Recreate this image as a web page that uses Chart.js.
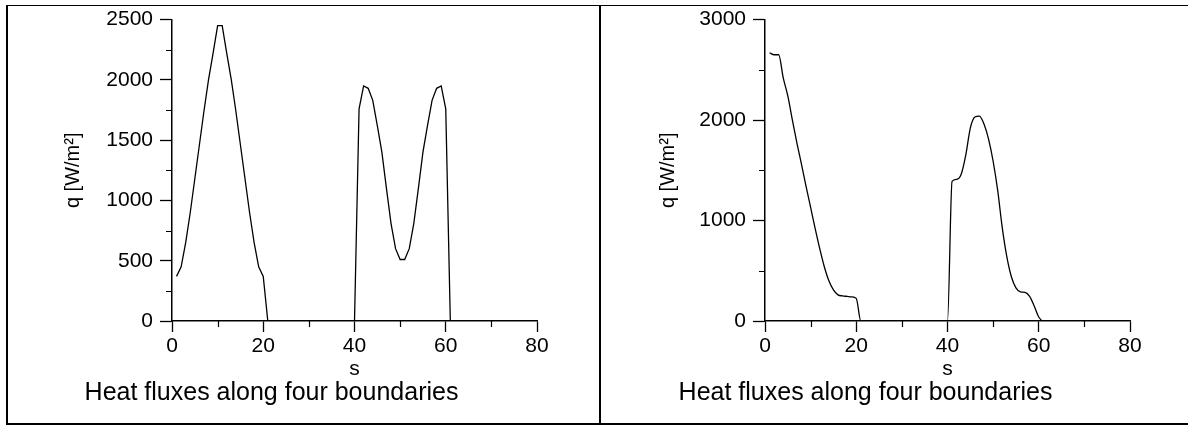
<!DOCTYPE html>
<html>
<head>
<meta charset="utf-8">
<script src="https://cdn.jsdelivr.net/npm/chart.js@4.4.1/dist/chart.umd.min.js"></script>
<style>
  body { margin: 0; background: #fff; }
  #wrap { position: relative; width: 1188px; height: 428px; overflow: hidden; background: #fff; }
  .panel { position: absolute; top: 0; height: 424px; }
  .rule { position: absolute; background: #000; }
</style>
</head>
<body>
<div id="wrap">
  <div class="panel" style="left:6px;width:594px"><canvas id="leftChart"></canvas></div>
  <div class="panel" style="left:601px;width:587px"><canvas id="rightChart"></canvas></div>
  <div class="rule" style="left:6px;top:5px;width:1182px;height:1px"></div>
  <div class="rule" style="left:6px;top:5px;width:1.5px;height:419px"></div>
  <div class="rule" style="left:599px;top:5px;width:2px;height:419px"></div>
  <div class="rule" style="left:6px;top:423px;width:1182px;height:2px"></div>
</div>
<script>
// s positions along the boundaries and heat flux q
const sLeft = [1, 2, 3, 4, 5, 6, 7, 8, 9, 10, 11, 12, 13, 14, 15, 16, 17, 18, 19, 20, 21,
  40, 41, 42, 43, 44, 45, 46, 47, 48, 49, 50, 51, 52, 53, 54, 55, 56, 57, 58, 59, 60, 61, 80];
const qLeft = [370, 450, 650, 900, 1180, 1460, 1740, 2000, 2220, 2450, 2450, 2220, 2000, 1740, 1460, 1180, 900, 650, 450, 370, 0,
  0, 1760, 1950, 1930, 1830, 1620, 1400, 1100, 810, 600, 510, 510, 600, 810, 1100, 1400, 1620, 1830, 1930, 1950, 1760, 0, 0];

const sRight = [1, 2, 3, 4, 5, 6, 7, 8, 9, 10, 11, 12, 13, 14, 15, 16, 17, 18, 19, 20, 21,
  40, 41, 42, 43, 44, 45, 46, 47, 48, 49, 50, 51, 52, 53, 54, 55, 56, 57, 58, 59, 60, 61, 80];
const qRight = [2670, 2650, 2650, 2420, 2240, 2000, 1770, 1560, 1340, 1130, 920, 720, 540, 400, 310, 260, 250, 245, 240, 225, 0,
  0, 1390, 1410, 1460, 1650, 1920, 2030, 2040, 1960, 1810, 1590, 1300, 930, 640, 440, 330, 290, 285, 245, 150, 40, 0, 0];

const xTicks = [0, 20, 40, 60, 80];
const yTicksLeft = [0, 500, 1000, 1500, 2000, 2500];
const yTicksRight = [0, 1000, 2000, 3000];

const caption = 'Heat fluxes along four boundaries';
const xTitle = 's';
const yTitle = 'q [W/m\u00B2]';

Chart.defaults.font.family = '"Liberation Sans", Arial, sans-serif';
Chart.defaults.color = '#000';

// short ticks halfway between the labelled ones
const minorTicks = {
  id: 'minorTicks',
  afterDraw(chart) {
    const { ctx, chartArea, scales } = chart;
    const xs = scales.x, ys = scales.y;
    const xStep = xs.ticks[1].value - xs.ticks[0].value;
    const yStep = ys.ticks[1].value - ys.ticks[0].value;
    ctx.save();
    ctx.strokeStyle = '#000';
    ctx.lineWidth = 1.2;
    ctx.beginPath();
    for (let v = xs.min + xStep / 2; v < xs.max; v += xStep) {
      const px = Math.round(xs.getPixelForValue(v)) + 0.5;
      ctx.moveTo(px, chartArea.bottom);
      ctx.lineTo(px, chartArea.bottom + 6);
    }
    for (let v = ys.min + yStep / 2; v < ys.max; v += yStep) {
      const py = Math.round(ys.getPixelForValue(v)) + 0.5;
      ctx.moveTo(chartArea.left, py);
      ctx.lineTo(chartArea.left - 6, py);
    }
    ctx.stroke();
    ctx.restore();
  }
};

function makeChart(id, s, q, yTicks, yAxisWidth, padRight, titlePad, smooth) {
  const ctx = document.getElementById(id).getContext('2d');
  return new Chart(ctx, {
    type: 'line',
    data: {
      datasets: [{
        data: s.map((v, i) => ({ x: v, y: q[i] })),
        borderColor: '#000',
        borderWidth: 1.3,
        pointRadius: 0,
        fill: false,
        tension: smooth ? 0.4 : 0,
        cubicInterpolationMode: smooth ? 'monotone' : 'default'
      }]
    },
    options: {
      responsive: true,
      maintainAspectRatio: false,
      animation: false,
      layout: { padding: { top: 17, right: padRight, bottom: 0, left: 0 } },
      plugins: {
        legend: { display: false },
        tooltip: { enabled: false },
        title: {
          display: true,
          position: 'bottom',
          text: caption,
          color: '#000',
          font: { size: 25, weight: 'normal', lineHeight: 1 },
          padding: { top: 1.5, bottom: 18 }
        }
      },
      scales: {
        x: {
          type: 'linear',
          min: xTicks[0],
          max: xTicks[xTicks.length - 1],
          afterBuildTicks: (scale) => { scale.ticks = xTicks.map(v => ({ value: v })); },
          afterFit: (scale) => { scale.height = 58.5; },
          grid: { drawOnChartArea: false, tickLength: 11, tickColor: '#000', tickWidth: 1.3 },
          border: { color: '#000', width: 1.5 },
          ticks: { padding: 2, maxRotation: 0, color: '#000', font: { size: 21 }, callback: (v) => String(v) },
          title: { display: true, text: xTitle, color: '#000', font: { size: 21, lineHeight: 1 }, padding: 0 }
        },
        y: {
          min: yTicks[0],
          max: yTicks[yTicks.length - 1],
          afterBuildTicks: (scale) => { scale.ticks = yTicks.map(v => ({ value: v })); },
          afterFit: (scale) => { scale.width = yAxisWidth; },
          grid: { drawOnChartArea: false, tickLength: 12, tickColor: '#000', tickWidth: 1.3 },
          border: { color: '#000', width: 1.5 },
          ticks: { padding: 7, color: '#000', font: { size: 21 }, callback: (v) => String(v) },
          title: { display: true, text: yTitle, color: '#000', font: { size: 20, lineHeight: 1.2 }, padding: { top: titlePad, bottom: 0 } }
        }
      }
    },
    plugins: [minorTicks]
  });
}

makeChart('leftChart', sLeft, qLeft, yTicksLeft, 166, 63, 55, false);
makeChart('rightChart', sRight, qRight, yTicksRight, 164, 58, 55, true);
</script>
</body>
</html>
